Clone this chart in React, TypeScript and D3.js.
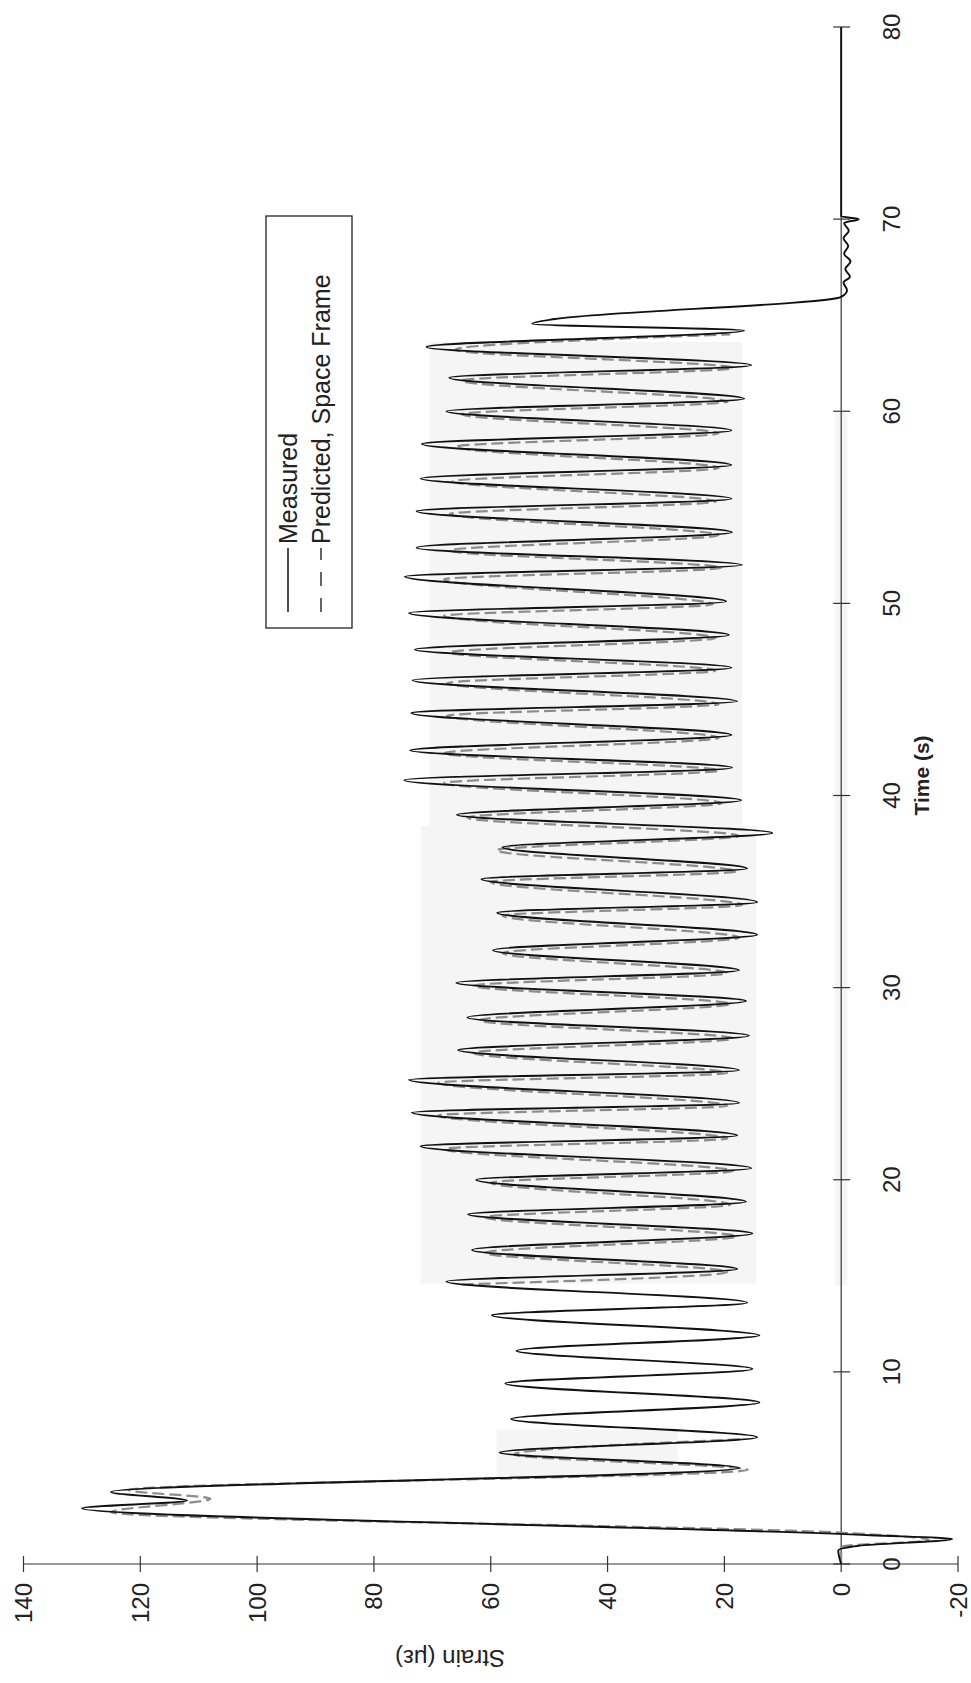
import React from "react";
import * as d3 from "d3";

// ---- data (time in s, strain in microstrain) ----
const measuredTime = [
  0, 0.7, 0.95, 1.3, 1.5, 2.9, 3.3, 3.75, 5.0, 5.8, 6.6, 7.55, 8.4, 9.4, 10.15, 11.1, 11.9,
  12.95, 13.6, 14.7, 15.35, 16.35, 17.2, 18.2, 18.85, 20.0, 20.6, 21.75, 22.3, 23.5, 24.0,
  25.2, 25.7, 26.75, 27.5, 28.45, 29.3, 30.25, 30.9, 31.95, 32.75, 33.9, 34.45, 35.65, 36.2,
  37.3, 38.05, 39.0, 39.75, 40.8, 41.45, 42.35, 43.15, 44.3, 44.9, 46.0, 46.65, 47.6, 48.35,
  49.5, 50.1, 51.4, 52.0, 52.9, 53.7, 54.8, 55.45, 56.5, 57.2, 58.3, 59.0, 60.0, 60.65, 61.75,
  62.4, 63.35, 64.2, 64.55, 64.8, 65.95, 66.3, 66.7, 67.0, 67.4, 67.8, 68.2, 68.6, 69.0,
  69.4, 69.8, 70.0, 70.15, 80,
];
const measuredStrain = [
  0, 0.5, -3, -19, -5, 130, 112, 125, 17.5, 58.5, 14.4, 56.5, 14, 57.5, 15.2, 55.6, 14,
  59.8, 16.1, 67.6, 17.8, 63.2, 15.2, 63.9, 16.3, 62.5, 15.4, 72, 17.8, 73.5, 17.5,
  74, 17.5, 65.6, 15.8, 64, 16.3, 65.9, 17.5, 59.6, 14.4, 58.9, 14.4, 61.6, 16.1,
  58, 11.8, 65.8, 17.1, 74.8, 18.7, 73.8, 18.8, 73.6, 17.8, 73.4, 18.8, 73, 19.2,
  74, 19.7, 74.7, 17, 72.7, 18.7, 72.7, 18.8, 72, 18.8, 71.8, 18.8, 67.6, 16.6, 67.1,
  15.4, 71, 16.6, 52.9, 49, 0, -1, -0.4, -1.5, -0.7, -1.6, -0.5, -1.2, -0.4,
  -1.3, -0.5, -3, 0, 0,
];

const predictedTime = [
  0, 0.9, 1.25, 1.6, 2.7, 3.4, 3.85, 4.9, 5.7, 6.5, 10,
  14.55, 15.2, 16.2, 17.05, 18.05, 18.7, 19.85, 20.45, 21.6, 22.15, 23.35, 23.85, 25.05, 25.55,
  26.6, 27.35, 28.3, 29.15, 30.1, 30.75, 31.8, 32.6, 33.75, 34.3, 35.5, 36.05, 37.15, 37.9,
  38.85, 39.6, 40.65, 41.3, 42.2, 43.0, 44.15, 44.75, 45.85, 46.5, 47.45, 48.2, 49.35, 49.95,
  51.25, 51.85, 52.75, 53.55, 54.65, 55.3, 56.35, 57.05, 58.15, 58.85, 59.85, 60.5, 61.6, 62.25,
  63.2, 64.0,
];
const predictedStrain = [
  0, 0, -15, -2, 125, 108, 122, 16, 56, 17, NaN,
  65, 19.5, 61, 18, 61, 19, 60, 18.5, 68, 19.5, 69, 19.5, 69, 19.5,
  63, 18.5, 62, 19, 63, 19.5, 58, 17.5, 58, 17, 60, 18, 59, 17.5,
  64, 20.5, 68, 21, 68, 21, 67.5, 21, 67.5, 21.5, 67, 21.5, 68, 22,
  68, 20.5, 67, 21, 67, 21.5, 66.5, 21, 66, 21, 65, 19.5, 65, 18.5,
  66, 19,
];

const strainTicks = [140, 120, 100, 80, 60, 40, 20, 0, -20];
const timeTicks = [0, 10, 20, 30, 40, 50, 60, 70, 80];
const legendLabels = ["Measured", "Predicted, Space Frame"];

const FONT = "'Liberation Sans', Arial, Helvetica, sans-serif";

export default function App() {
  // strain runs right-to-left across the page, time runs bottom-to-top
  const sx = d3.scaleLinear().domain([-20, 140]).range([958, 23.5]);
  const ty = d3.scaleLinear().domain([0, 80]).range([1564, 27]);

  const mIdx = measuredTime.map((_, i) => i);
  const pIdx = predictedTime.map((_, i) => i);

  const measuredPath = d3
    .line<number>()
    .x((i) => sx(measuredStrain[i]))
    .y((i) => ty(measuredTime[i]))
    .curve(d3.curveMonotoneY)(mIdx) as string;

  const predictedPath = d3
    .line<number>()
    .defined((i) => !isNaN(predictedStrain[i]))
    .x((i) => sx(predictedStrain[i]))
    .y((i) => ty(predictedTime[i]))
    .curve(d3.curveMonotoneY)(pIdx) as string;

  const x0 = sx(0);
  const y0 = ty(0);
  const labelX = 891;

  return (
    <svg
      width={971}
      height={1683}
      style={{ position: "absolute", left: 0, top: 0, background: "#fff" }}
      fontFamily={FONT}
    >
      {/* faint scan shading */}
      <g fill="#f5f5f5">
        <rect x={sx(72)} y={ty(38.4)} width={sx(14.5) - sx(72)} height={ty(14.6) - ty(38.4)} />
        <rect x={sx(70.5)} y={ty(63.6)} width={sx(17) - sx(70.5)} height={ty(38.4) - ty(63.6)} />
        <rect x={sx(59)} y={ty(7.0)} width={sx(28) - sx(59)} height={ty(4.5) - ty(7.0)} />
        <rect x={x0 - 6} y={ty(60)} width={12} height={ty(14.5) - ty(60)} />
      </g>

      {/* axes */}
      <g stroke="#333" strokeWidth={1.2} fill="none">
        <line x1={sx(140)} x2={sx(-20)} y1={y0} y2={y0} />
        {strainTicks.map((v) => (
          <line key={"st" + v} x1={sx(v)} x2={sx(v)} y1={y0 - 8} y2={y0 + 8} />
        ))}
        <line x1={x0} x2={x0} y1={ty(0)} y2={ty(80)} />
        {timeTicks.map((v) => (
          <line key={"tt" + v} x1={x0 - 8} x2={x0 + 9} y1={ty(v)} y2={ty(v)} />
        ))}
      </g>

      {/* series */}
      <path d={predictedPath} fill="none" stroke="#8c8c8c" strokeWidth={2.2} strokeDasharray="12 5" />
      <path d={measuredPath} fill="none" stroke="#111" strokeWidth={1.9} strokeLinejoin="round" />

      {/* strain tick labels */}
      {strainTicks.map((v) => (
        <text
          key={"sl" + v}
          transform={`translate(${sx(v)},${y0 + 19}) rotate(-90)`}
          textAnchor="end"
          dominantBaseline="central"
          fontSize={24}
          fill="#222"
        >
          {v}
        </text>
      ))}

      {/* time tick labels */}
      {timeTicks.map((v) => (
        <text
          key={"tl" + v}
          transform={`translate(${labelX},${ty(v)}) rotate(-90)`}
          textAnchor="middle"
          dominantBaseline="central"
          fontSize={24}
          fill="#222"
        >
          {v}
        </text>
      ))}

      {/* axis titles */}
      <text
        transform={`translate(921,${ty(40) - 20}) rotate(-90)`}
        textAnchor="middle"
        dominantBaseline="central"
        fontSize={21}
        fontWeight="bold"
        fill="#222"
      >
        Time (s)
      </text>
      <text
        transform={`translate(450,1658) rotate(180)`}
        textAnchor="middle"
        dominantBaseline="central"
        fontSize={24}
        fill="#222"
      >
        Strain (με)
      </text>

      {/* legend */}
      <g>
        <rect x={266} y={216} width={86} height={412} fill="#fff" stroke="#222" strokeWidth={1.3} />
        <line x1={288} x2={288} y1={612} y2={548} stroke="#111" strokeWidth={1.5} />
        <line x1={321} x2={321} y1={612} y2={548} stroke="#555" strokeWidth={1.8} strokeDasharray="14 12" />
        <text
          transform={`translate(288,544) rotate(-90)`}
          textAnchor="start"
          dominantBaseline="central"
          fontSize={25}
          fill="#222"
        >
          {legendLabels[0]}
        </text>
        <text
          transform={`translate(321,544) rotate(-90)`}
          textAnchor="start"
          dominantBaseline="central"
          fontSize={25}
          fill="#222"
        >
          {legendLabels[1]}
        </text>
      </g>
    </svg>
  );
}
